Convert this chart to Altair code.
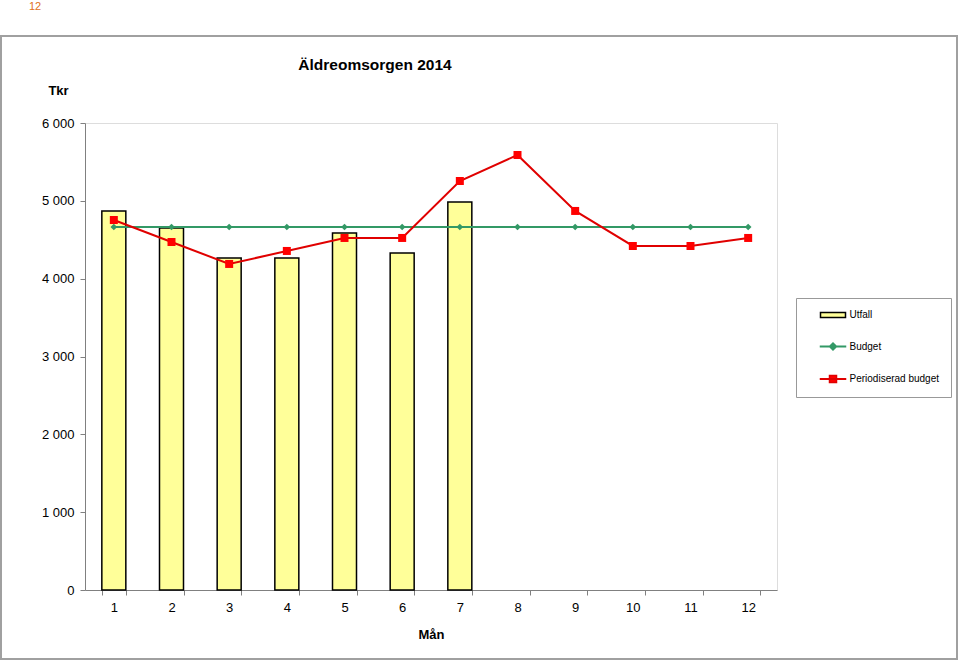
import altair as alt
import pandas as pd

# ---- data ----
months = list(range(1, 13))
utfall = [4870, 4650, 4265, 4265, 4587, 4330, 4985, None, None, None, None, None]
budget = [4664] * 12
periodiserad = [4754, 4471, 4189, 4356, 4523, 4523, 5255, 5589, 4870, 4420, 4420, 4523]
series = ["Utfall", "Budget", "Periodiserad budget"]
y_ticks = [0, 1000, 2000, 3000, 4000, 5000, 6000]
title_text = "Äldreomsorgen 2014"
page_text = "12"

df = pd.DataFrame({"man": months, "utfall": utfall, "budget": budget, "period": periodiserad})
legend_df = pd.DataFrame({"series": series})

FONT = "Liberation Sans"
GREEN = "#339966"
RED = "#FF0000"
RED_LINE = "#E00000"
YELLOW = "#FFFF99"

xenc = alt.X(
    "man:O",
    sort="ascending",
    scale=alt.Scale(paddingInner=0.58, paddingOuter=0.29),
    axis=alt.Axis(
        title="Mån", titleFont=FONT, titleFontSize=13, titleFontWeight="bold",
        titlePadding=14, labelFont=FONT, labelFontSize=13, labelAngle=0,
        labelPadding=6, tickBand="extent", tickSize=5, tickColor="#808080",
        domainColor="#808080", labelColor="black", titleColor="black",
    ),
)
yscale = alt.Scale(domain=[0, 6000], nice=False)
yaxis = alt.Axis(
    values=y_ticks, title="Tkr", titleAngle=0, titleX=-27, titleY=-33,
    titleAlign="center", titleBaseline="middle", titleFont=FONT,
    titleFontSize=13, titleFontWeight="bold", titleColor="black",
    labelFont=FONT, labelFontSize=13, labelPadding=6, labelColor="black",
    labelExpr="replace(format(datum.value, ','), ',', ' ')",
    tickSize=5, tickColor="#808080", domainColor="#808080", grid=False,
)

frame = alt.Chart(alt.Data(values=[{}])).mark_rect(
    fill=None, stroke="#A0A0A0", strokeWidth=2
).encode(
    x=alt.value(-84), x2=alt.value(872), y=alt.value(-87), y2=alt.value(536)
)

pagenum = alt.Chart(alt.Data(values=[{}])).mark_text(
    text=page_text, font=FONT, fontSize=11, color="#E07020", align="center", baseline="middle"
).encode(x=alt.value(-50), y=alt.value(-116))

title = alt.Chart(alt.Data(values=[{}])).mark_text(
    text=title_text, font=FONT, fontSize=15.5, fontWeight="bold", color="black",
    align="center", baseline="middle"
).encode(x=alt.value(290), y=alt.value(-58))

base = alt.Chart(df)

bars = base.mark_bar(size=24, fill=YELLOW, stroke="black", strokeWidth=1.5).encode(
    x=xenc, y=alt.Y("utfall:Q", scale=yscale, axis=yaxis)
)
bline = base.mark_line(color=GREEN, strokeWidth=2).encode(x=xenc, y=alt.Y("budget:Q", scale=yscale))
bpts = base.mark_point(shape="diamond", filled=True, color=GREEN, size=45, opacity=1).encode(
    x=xenc, y=alt.Y("budget:Q", scale=yscale)
)
pline = base.mark_line(color=RED_LINE, strokeWidth=2).encode(x=xenc, y=alt.Y("period:Q", scale=yscale))
ppts = base.mark_point(shape="square", filled=True, color=RED, size=64, opacity=1).encode(
    x=xenc, y=alt.Y("period:Q", scale=yscale)
)

paths = [
    "M-2.5,-0.5 L2.5,-0.5 L2.5,0.5 L-2.5,0.5 Z",
    "M-2.5,-0.05 L2.5,-0.05 L2.5,0.05 L-2.5,0.05 Z M0,-0.7 L0.7,0 L0,0.7 L-0.7,0 Z",
    "M-2.5,-0.05 L2.5,-0.05 L2.5,0.05 L-2.5,0.05 Z M-0.7,-0.7 L0.7,-0.7 L0.7,0.7 L-0.7,0.7 Z",
]
leg = alt.Chart(legend_df).mark_point(filled=True, size=100, strokeWidth=1.5, opacity=1).encode(
    fill=alt.Fill(
        "series:N",
        scale=alt.Scale(domain=series, range=[YELLOW, GREEN, RED]),
        legend=alt.Legend(
            orient="none", legendX=711, legendY=175, title=None,
            strokeColor="#999999", fillColor="white", padding=11,
            rowPadding=18.5, symbolSize=100, symbolStrokeWidth=1.5,
            symbolOffset=20, labelOffset=10.5, labelFont=FONT,
            labelFontSize=10, labelColor="black",
        ),
    ),
    stroke=alt.Stroke("series:N", scale=alt.Scale(domain=series, range=["black", GREEN, RED_LINE])),
    shape=alt.Shape("series:N", scale=alt.Scale(domain=series, range=paths)),
).transform_filter("false")

chart = alt.layer(frame, bars, bline, bpts, pline, ppts, leg, title, pagenum).properties(
    width=692, height=467,
    autosize=alt.AutoSizeParams(type="none"),
    padding={"left": 85, "top": 123, "right": 183, "bottom": 73},
).configure_view(stroke="#808080", strokeWidth=1).configure(background="white")

chart.save("out.html", embed_options={"renderer": "svg", "actions": False})
